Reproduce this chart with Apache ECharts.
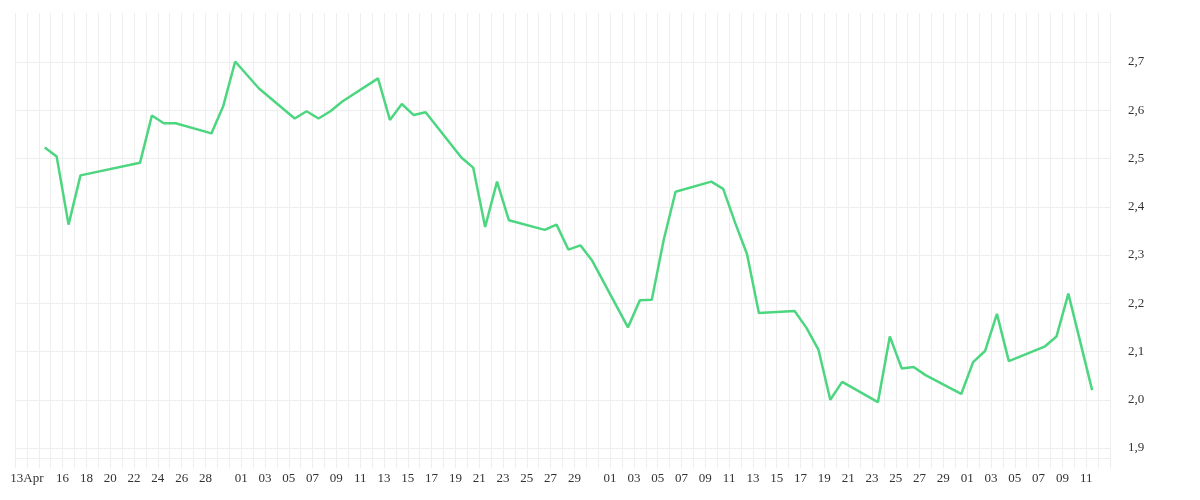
<!DOCTYPE html>
<html>
<head>
<meta charset="utf-8">
<script src="https://cdn.jsdelivr.net/npm/echarts@6/dist/echarts.min.js"></script>
<style>
    html, body { margin:0; padding:0; background:#fff; }
    #chart { width:1200px; height:500px; }
</style>
</head>
<body>
<div id="chart"></div>
<script>
    // day index counted from 12 Apr (0) to 14 Jul (92); points sit at midday
    var dayIndex = [2,3,4,5,10,11,12,13,16,17,18,20,23,24,25,26,27,30,31,32,33,34,37,38,39,40,41,44,45,46,47,48,
        51,52,53,54,55,58,59,60,61,62,65,66,67,68,69,72,73,74,75,76,79,80,81,82,83,86,87,88,90];
    var values = [2.523,2.504,2.363,2.465,2.491,2.589,2.573,2.573,2.552,2.609,2.701,2.645,2.583,2.598,2.583,2.598,2.618,
        2.666,2.580,2.613,2.590,2.596,2.502,2.481,2.358,2.452,2.372,2.352,2.363,2.311,2.320,2.288,
        2.150,2.206,2.207,2.331,2.431,2.452,2.437,2.367,2.302,2.180,2.184,2.149,2.104,2.000,2.037,
        1.995,2.131,2.065,2.068,2.051,2.012,2.078,2.101,2.178,2.080,2.110,2.131,2.220,2.020];

    var tickIndex = [1,4,6,8,10,12,14,16,
        19,21,23,25,27,29,31,33,35,37,39,41,43,45,47,
        50,52,54,56,58,60,62,64,66,68,70,72,74,76,78,
        80,82,84,86,88,90];
    var tickText = ['13Apr','16','18','20','22','24','26','28',
        '01','03','05','07','09','11','13','15','17','19','21','23','25','27','29',
        '01','03','05','07','09','11','13','15','17','19','21','23','25','27','29',
        '01','03','05','07','09','11'];

    var seriesData = [];
    for (var i = 0; i < dayIndex.length; i++) {
        seriesData.push([dayIndex[i] + 0.5, values[i]]);
    }

    var font = 'Liberation Serif';
    var myChart = echarts.init(document.getElementById('chart'));
    myChart.setOption({
        animation: false,
        grid: [
            { left: 15, right: 90, top: 13, bottom: 42 },
            { left: 15, right: 90, top: 62, bottom: 52 }
        ],
        xAxis: [
            {
                type: 'value', gridIndex: 0, min: 0, max: 92, interval: 1,
                axisLine: { lineStyle: { color: '#eeeeee' } },
                axisTick: { length: 10, lineStyle: { color: '#eeeeee' } },
                splitLine: { show: true, lineStyle: { color: '#eeeeee' } },
                axisLabel: {
                    margin: 14, color: '#333', fontFamily: font, fontSize: 13,
                    showMinLabel: true, showMaxLabel: true,
                    formatter: function (v) {
                        var p = tickIndex.indexOf(Math.round(v));
                        return p >= 0 ? tickText[p] : '';
                    }
                }
            },
            { type: 'value', gridIndex: 1, min: 0, max: 92, show: false }
        ],
        yAxis: [
            { type: 'value', gridIndex: 0, min: 0, max: 1, show: false, splitLine: { show: false } },
            {
                type: 'value', gridIndex: 1, position: 'right', min: 1.9, max: 2.7, interval: 0.1,
                axisLine: { show: false },
                axisTick: { show: false },
                splitLine: { lineStyle: { color: '#eeeeee' } },
                axisLabel: {
                    margin: 18, color: '#333', fontFamily: font, fontSize: 13,
                    formatter: function (v) { return v.toFixed(1).replace('.', ','); }
                }
            }
        ],
        series: [{
            type: 'line',
            xAxisIndex: 1,
            yAxisIndex: 1,
            data: seriesData,
            showSymbol: false,
            clip: false,
            lineStyle: { color: '#4cd680', width: 2.5 }
        }]
    });
</script>
</body>
</html>
